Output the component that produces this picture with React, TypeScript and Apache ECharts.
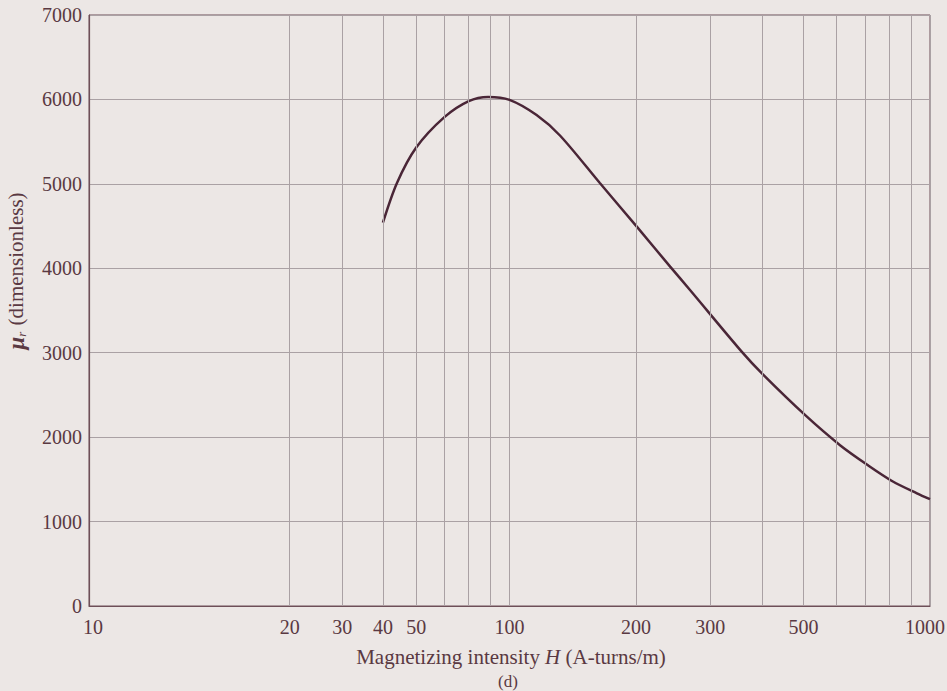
import React, { useEffect, useRef } from "react";
import * as echarts from "echarts";

// Magnetizing intensity H (A-turns/m)
const H_VALUES = [50, 54, 60, 70, 80, 89, 100, 116, 132, 164, 201, 241, 269, 357, 401, 505, 611, 713, 816, 931, 1000];
// Relative permeability mu_r
const MU_VALUES = [4540, 5010, 5430, 5790, 5980, 6030, 5995, 5815, 5570, 5010, 4490, 4020, 3740, 3010, 2740, 2260, 1905, 1665, 1475, 1335, 1265];

// vertical grid lines (positions on the log axis)
const X_GRID_VALUES = [30, 40, 50, 60, 70, 80, 90, 200, 300, 400, 500, 600, 700, 800, 900];
// extra tick labels as printed in the figure, at these grid lines
const X_LABEL_POSITIONS = [30, 40, 50, 60, 200, 300, 500];
const X_LABEL_TEXTS = ["20", "30", "40", "50", "200", "300", "500"];

const FONT = "'Liberation Serif', 'DejaVu Serif', serif";
const TEXT = "#5a3942";
const GRID_COLOR = "#aaa1a4";
const AXIS_COLOR = "#6e4f58";
const BG = "#ece7e5";
const TICK_FONT = 20;
const NAME_FONT = 21;

export default function App() {
  const ref = useRef<HTMLDivElement>(null);

  useEffect(() => {
    if (!ref.current) return;
    const chart = echarts.init(ref.current, undefined, { renderer: "svg" });
    const data = H_VALUES.map((h, i) => [h, MU_VALUES[i]]);
    const markData = X_GRID_VALUES.map((v) => {
      const idx = X_LABEL_POSITIONS.indexOf(v);
      return {
        xAxis: v,
        label: {
          show: idx >= 0,
          position: "start",
          distance: 11,
          formatter: idx >= 0 ? X_LABEL_TEXTS[idx] : "",
          color: TEXT,
          fontFamily: FONT,
          fontSize: TICK_FONT,
        },
      };
    });
    const tickRich = { color: TEXT, fontFamily: FONT, fontSize: TICK_FONT };
    chart.setOption({
      animation: false,
      backgroundColor: BG,
      grid: {
        left: 89,
        right: 17,
        top: 15,
        bottom: 85,
        outerBoundsMode: "none",
        containLabel: false,
        show: true,
        borderColor: AXIS_COLOR,
        borderWidth: 1,
        backgroundColor: "transparent",
      },
      xAxis: {
        type: "log",
        logBase: 10,
        min: 10,
        max: 1000,
        axisLine: { show: true, lineStyle: { color: AXIS_COLOR, width: 1.2 } },
        axisTick: { show: false },
        axisLabel: {
          color: TEXT,
          fontFamily: FONT,
          fontSize: TICK_FONT,
          margin: 11,
          formatter: (v: number) => {
            const r = Math.round(v);
            if (r === 1000) return "{r|1000}";
            if (r === 10) return "{l|10}";
            return String(r);
          },
          rich: {
            r: { ...tickRich, padding: [0, 10, 0, 0] },
            l: { ...tickRich, padding: [0, 0, 0, 8] },
          },
        },
        splitLine: { show: true, lineStyle: { color: GRID_COLOR, width: 1 } },
        minorSplitLine: { show: false },
      },
      yAxis: {
        type: "value",
        min: 0,
        max: 7000,
        interval: 1000,
        axisLine: { show: true, lineStyle: { color: AXIS_COLOR, width: 1.2 } },
        axisTick: { show: false },
        axisLabel: {
          color: TEXT,
          fontFamily: FONT,
          fontSize: TICK_FONT,
          margin: 7,
          formatter: (v: number) => String(v),
        },
        splitLine: { show: true, lineStyle: { color: GRID_COLOR, width: 1 } },
      },
      series: [
        {
          type: "line",
          data,
          smooth: 0.3,
          showSymbol: false,
          lineStyle: { color: "#4a2637", width: 2.5 },
          markLine: {
            silent: true,
            symbol: "none",
            animation: false,
            lineStyle: { color: GRID_COLOR, width: 1, type: "solid" },
            emphasis: { disabled: true },
            data: markData,
          },
          z: 3,
        },
      ],
      graphic: [
        {
          type: "text",
          x: 511,
          y: 657,
          style: {
            text: "Magnetizing intensity {it|H} (A-turns/m)",
            fill: TEXT,
            font: `${NAME_FONT}px ${FONT}`,
            textAlign: "center",
            textVerticalAlign: "middle",
            rich: {
              it: { fontStyle: "italic", fontFamily: FONT, fontSize: NAME_FONT, fill: TEXT },
            },
          },
        },
        {
          type: "text",
          x: 508,
          y: 681,
          style: {
            text: "(d)",
            fill: TEXT,
            font: `17px ${FONT}`,
            textAlign: "center",
            textVerticalAlign: "middle",
          },
        },
        {
          type: "text",
          x: 16,
          y: 271,
          rotation: Math.PI / 2,
          style: {
            text: "{mu|μ}{sub|r} (dimensionless)",
            fill: TEXT,
            font: `${NAME_FONT}px ${FONT}`,
            textAlign: "center",
            textVerticalAlign: "middle",
            rich: {
              mu: { fontStyle: "italic", fontWeight: "bold", fontFamily: FONT, fontSize: 23, fill: TEXT, lineHeight: 24 },
              sub: { fontStyle: "italic", fontFamily: FONT, fontSize: 13, fill: TEXT, lineHeight: 24, verticalAlign: "bottom", padding: [9, 1, 0, 0] },
            },
          },
        },
      ],
    });
    return () => chart.dispose();
  }, []);

  return (
    <div
      ref={ref}
      style={{ position: "fixed", left: 0, top: 0, width: 947, height: 691, background: BG }}
    />
  );
}
